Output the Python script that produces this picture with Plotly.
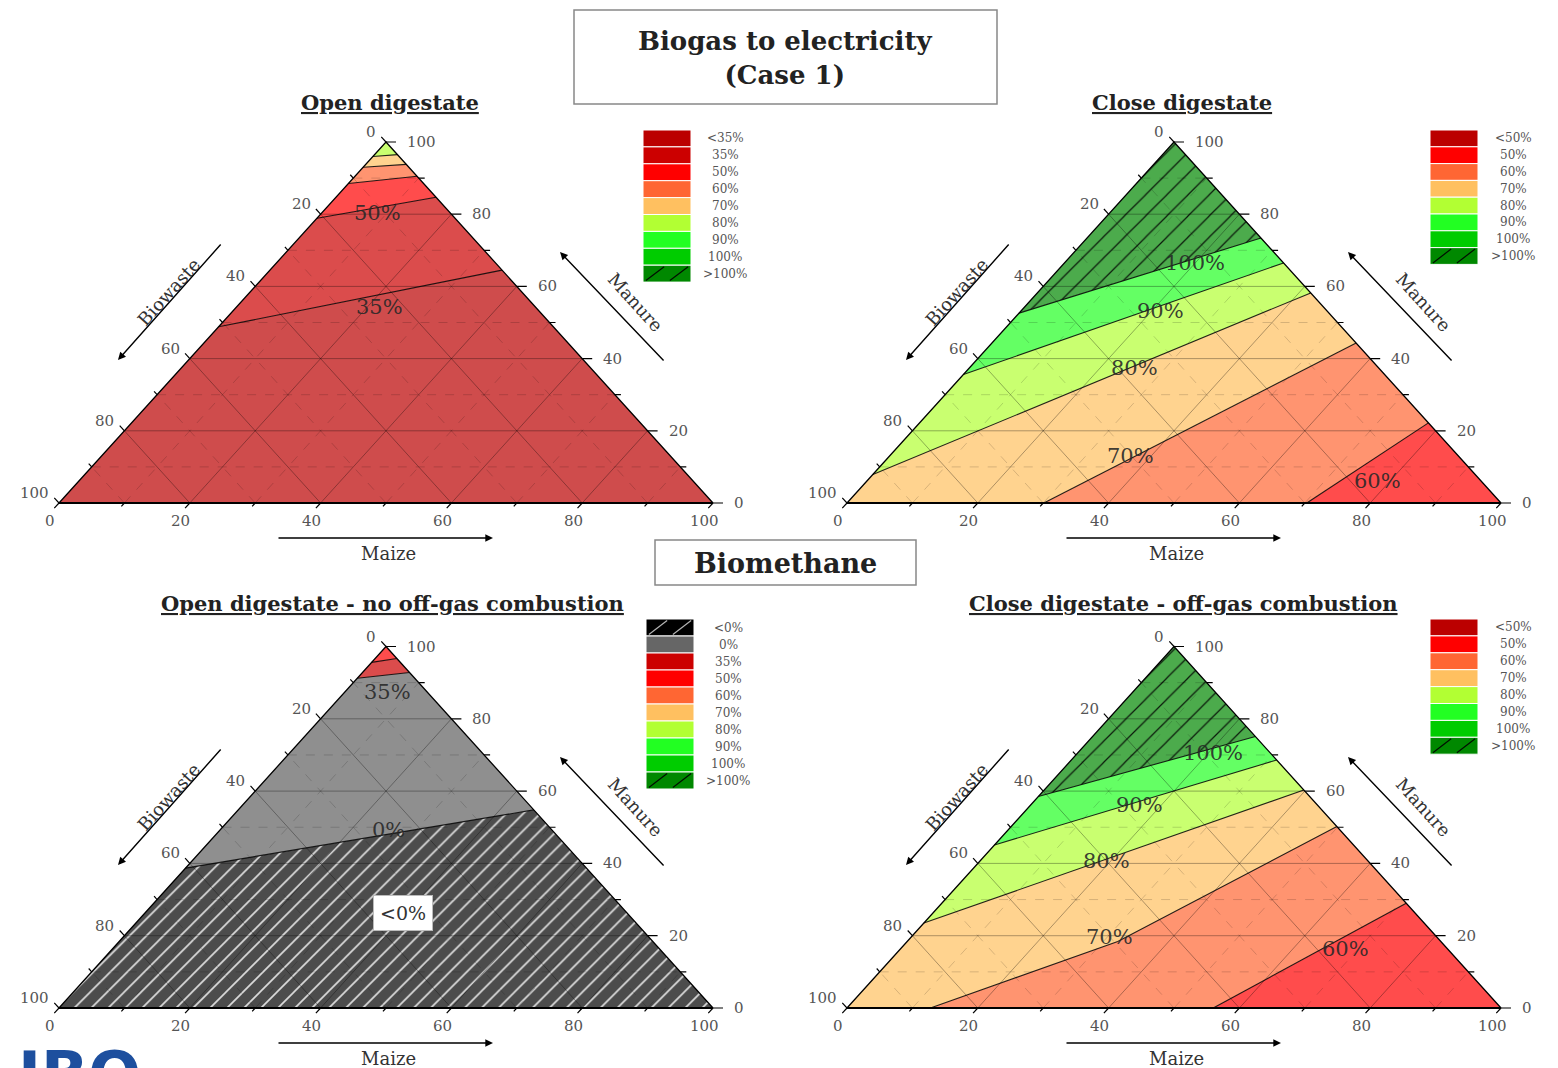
import plotly.graph_objects as go

W, H = 1558, 1068
SERIF = "DejaVu Serif"

# ---------------- data ----------------
TICK_VALUES = [0, 20, 40, 60, 80, 100]
TICK_TEXT = ["0", "20", "40", "60", "80", "100"]
MINOR_VALUES = [10, 30, 50, 70, 90]

# Contour lines: Manure % and Maize % at each point (Biowaste = 100 - Manure - Maize)
# Biogas to electricity - open digestate
OPEN_LEVELS = ["35%", "50%", "60%", "70%", "80%"]
OPEN_MANURE = [[48.8, 64.5], [78.9, 84.7], [88.5, 90.5], [93.0, 93.8], [96.0, 96.5]]
OPEN_MAIZE = [[0.0, 35.5], [0.0, 15.3], [0.0, 9.5], [0.0, 6.2], [0.0, 3.5]]
OPEN_COLORS = ["#BB0000", "#CC0000", "#FF0000", "#FF6633", "#FFC060", "#B2FF33"]
OPEN_HATCH = [None, None, None, None, None, None]
OPEN_LABELS = ["50%", "35%"]
OPEN_LABEL_MANURE = [80.3, 54.3]
OPEN_LABEL_MAIZE = [8.6, 21.9]

# Biogas to electricity - close digestate
CLOSE_LEVELS = ["60%", "70%", "80%", "90%", "100%"]
CLOSE_MANURE = [[0.0, 22.2], [0.0, 44.3], [7.9, 58.2], [35.6, 66.5], [52.6, 73.4]]
CLOSE_MAIZE = [[70.3, 77.8], [30.1, 55.7], [0.0, 41.8], [0.0, 33.5], [0.0, 26.6]]
CLOSE_COLORS = ["#FF0000", "#FF6633", "#FFC060", "#B2FF33", "#22FF22", "#008800"]
CLOSE_HATCH = [None, None, None, None, None, "dark"]
CLOSE_LABELS = ["100%", "90%", "80%", "70%", "60%"]
CLOSE_LABEL_MANURE = [66.5, 53.1, 37.4, 13.0, 6.1]
CLOSE_LABEL_MAIZE = [20.0, 21.4, 25.3, 36.8, 78.0]

# Biomethane - open digestate, no off-gas combustion
BMO_LEVELS = ["0%", "35%", "50%"]
BMO_MANURE = [[38.7, 54.8], [91.2, 92.8], [95.6, 96.7]]
BMO_MAIZE = [[0.0, 45.2], [0.0, 7.2], [0.0, 3.3]]
BMO_COLORS = ["#000000", "#606060", "#CC0000", "#FF0000"]
BMO_HATCH = ["light", None, None, None]
BMO_LABELS = ["35%", "0%"]
BMO_LABEL_MANURE = [87.4, 49.3]
BMO_LABEL_MAIZE = [6.6, 25.7]
BMO_BOX_LABEL = "<0%"
BMO_BOX_MANURE = 26.3
BMO_BOX_MAIZE = 39.4

# Biomethane - close digestate, off-gas combustion
BMC_LEVELS = ["60%", "70%", "80%", "90%", "100%"]
BMC_MANURE = [[0.0, 29.0], [0.0, 18.4, 50.2], [23.5, 60.3], [45.1, 68.6], [58.5, 75.1]]
BMC_MAIZE = [[56.0, 71.0], [12.75, 32.2, 49.8], [0.0, 39.7], [0.0, 31.4], [0.0, 24.9]]
BMC_COLORS = ["#FF0000", "#FF6633", "#FFC060", "#B2FF33", "#22FF22", "#008800"]
BMC_HATCH = [None, None, None, None, None, "dark"]
BMC_LABELS = ["100%", "90%", "80%", "70%", "60%"]
BMC_LABEL_MANURE = [70.5, 56.1, 40.6, 19.6, 16.3]
BMC_LABEL_MAIZE = [20.7, 16.6, 19.4, 30.3, 68.0]

# Legends
LEG_OPEN = ["<35%", "35%", "50%", "60%", "70%", "80%", "90%", "100%", ">100%"]
LEG_OPEN_COLORS = ["#BB0000", "#CC0000", "#FF0000", "#FF6633", "#FFC060", "#B2FF33", "#22FF22", "#00CC00", "#008800"]
LEG_OPEN_HATCH = [None] * 8 + ["dark"]
LEG_CLOSE = ["<50%", "50%", "60%", "70%", "80%", "90%", "100%", ">100%"]
LEG_CLOSE_COLORS = ["#BB0000", "#FF0000", "#FF6633", "#FFC060", "#B2FF33", "#22FF22", "#00CC00", "#008800"]
LEG_CLOSE_HATCH = [None] * 7 + ["dark"]
LEG_BMO = ["<0%", "0%", "35%", "50%", "60%", "70%", "80%", "90%", "100%", ">100%"]
LEG_BMO_COLORS = ["#000000", "#666666", "#CC0000", "#FF0000", "#FF6633", "#FFC060", "#B2FF33", "#22FF22", "#00CC00", "#008800"]
LEG_BMO_HATCH = ["light"] + [None] * 8 + ["dark"]

AXIS_NAMES = ["Biowaste", "Manure", "Maize"]
MAIN_TITLE = "Biogas to electricity<br>(Case 1)"
SECOND_TITLE = "Biomethane"

# ---------------- helpers ----------------
FILL_ALPHA = 0.7
PADX, PADY = 3.0, 3.0
HATCH = {
    "dark": dict(fg="rgba(0,0,0,0.85)", size=15, solidity=0.08),
    "light": dict(fg="rgba(235,235,235,0.9)", size=12, solidity=0.14),
}


def rgba(h, a):
    h = h.lstrip("#")
    return "rgba(%d,%d,%d,%s)" % (int(h[0:2], 16), int(h[2:4], 16), int(h[4:6], 16), a)


def to_xy(m, z):
    return z + m / 2.0, m


def perim_t(m, z):
    b = 100.0 - m - z
    if m < 1e-6:
        return z / 100.0
    if b < 1e-6:
        return 1.0 + m / 100.0
    return 2.0 + b / 100.0


CORNERS = {1: (0.0, 100.0), 2: (100.0, 0.0), 3: (0.0, 0.0)}


def walk(t1, t2):
    if t2 < t1:
        t2 += 3
    pts = []
    for k in range(1, 7):
        if t1 < k < t2:
            pts.append(CORNERS[(k - 1) % 3 + 1])
    return pts


def region_polys(man, mai):
    lines = [list(zip(m, z)) for m, z in zip(man, mai)]
    polys = []
    L = lines[0]
    polys.append(L[::-1] + walk(perim_t(*L[0]), perim_t(*L[-1])))
    for i in range(len(lines) - 1):
        L1, L2 = lines[i], lines[i + 1]
        polys.append(L1 + walk(perim_t(*L1[-1]), perim_t(*L2[-1])) + L2[::-1]
                     + walk(perim_t(*L2[0]), perim_t(*L1[0])))
    L = lines[-1]
    polys.append(L + walk(perim_t(*L[-1]), perim_t(*L[0])))
    return polys


def px(X, Y):
    return X / W, 1 - Y / H


def ptext(X, Y, text, font, **kw):
    x, y = px(X, Y)
    d = dict(x=x, y=y, xref="paper", yref="paper", text=text, showarrow=False, font=font,
             xanchor="center", yanchor="middle")
    d.update(kw)
    return d


PANELS = [
    dict(box=(59, 713, 503, 142), man=OPEN_MANURE, mai=OPEN_MAIZE, colors=OPEN_COLORS, hatch=OPEN_HATCH,
         labels=OPEN_LABELS, lab_m=OPEN_LABEL_MANURE, lab_z=OPEN_LABEL_MAIZE,
         title="Open digestate", title_xy=(390, 103),
         leg=LEG_OPEN, leg_colors=LEG_OPEN_COLORS, leg_hatch=LEG_OPEN_HATCH, leg_pos=(643, 691, 130, 16.9), leg_tx=725),
    dict(box=(847, 1501, 503, 142), man=CLOSE_MANURE, mai=CLOSE_MAIZE, colors=CLOSE_COLORS, hatch=CLOSE_HATCH,
         labels=CLOSE_LABELS, lab_m=CLOSE_LABEL_MANURE, lab_z=CLOSE_LABEL_MAIZE,
         title="Close digestate", title_xy=(1182, 103),
         leg=LEG_CLOSE, leg_colors=LEG_CLOSE_COLORS, leg_hatch=LEG_CLOSE_HATCH, leg_pos=(1430, 1478, 130, 16.8), leg_tx=1513),
    dict(box=(59, 713, 1008, 646.5), man=BMO_MANURE, mai=BMO_MAIZE, colors=BMO_COLORS, hatch=BMO_HATCH,
         labels=BMO_LABELS, lab_m=BMO_LABEL_MANURE, lab_z=BMO_LABEL_MAIZE,
         title="Open digestate - no off-gas combustion", title_xy=(392, 603),
         leg=LEG_BMO, leg_colors=LEG_BMO_COLORS, leg_hatch=LEG_BMO_HATCH, leg_pos=(646, 694, 619, 17.0), leg_tx=728),
    dict(box=(847, 1501, 1008, 646.5), man=BMC_MANURE, mai=BMC_MAIZE, colors=BMC_COLORS, hatch=BMC_HATCH,
         labels=BMC_LABELS, lab_m=BMC_LABEL_MANURE, lab_z=BMC_LABEL_MAIZE,
         title="Close digestate - off-gas combustion", title_xy=(1183, 603),
         leg=LEG_CLOSE, leg_colors=LEG_CLOSE_COLORS, leg_hatch=LEG_CLOSE_HATCH, leg_pos=(1430, 1478, 619, 16.9), leg_tx=1513),
]

fig = go.Figure()
annotations = []
shapes = []
layout_axes = {}

for i, P in enumerate(PANELS):
    n = i + 1
    xa, ya = ("x" if n == 1 else "x%d" % n), ("y" if n == 1 else "y%d" % n)
    x0, x1, yb, yt = P["box"]
    sx = (x1 - x0) / 100.0
    sy = (yb - yt) / 100.0
    xdom = [(x0 - PADX * sx) / W, (x1 + PADX * sx) / W]
    ydom = [1 - (yb + PADY * sy) / H, 1 - (yt - PADY * sy) / H]
    kx = "xaxis" if n == 1 else "xaxis%d" % n
    ky = "yaxis" if n == 1 else "yaxis%d" % n
    layout_axes[kx] = dict(domain=xdom, range=[-PADX, 100 + PADX], visible=False, fixedrange=True, anchor=ya)
    layout_axes[ky] = dict(domain=ydom, range=[-PADY, 100 + PADY], visible=False, fixedrange=True, anchor=xa)
    common = dict(xaxis=xa, yaxis=ya, showlegend=False, hoverinfo="skip")

    # filled regions
    for poly, col, hat in zip(region_polys(P["man"], P["mai"]), P["colors"], P["hatch"]):
        pts = poly + [poly[0]]
        xs = [to_xy(m, z)[0] for m, z in pts]
        ys = [to_xy(m, z)[1] for m, z in pts]
        tr = dict(x=xs, y=ys, mode="lines", fill="toself", fillcolor=rgba(col, FILL_ALPHA),
                  line=dict(width=0), **common)
        if hat:
            hs = HATCH[hat]
            tr["fillpattern"] = dict(shape="/", fgcolor=hs["fg"], bgcolor=rgba(col, FILL_ALPHA),
                                     size=hs["size"], solidity=hs["solidity"], fgopacity=1)
        fig.add_trace(go.Scatter(**tr))

    # grid lines
    for vals, dash, colr in ((MINOR_VALUES, "dash", "rgba(0,0,0,0.16)"), (TICK_VALUES[1:-1], "solid", "rgba(0,0,0,0.32)")):
        gx, gy = [], []
        for v in vals:
            for (m1, z1), (m2, z2) in (((v, 0), (v, 100 - v)), ((0, v), (100 - v, v)), ((0, 100 - v), (100 - v, 0))):
                a, b = to_xy(m1, z1), to_xy(m2, z2)
                gx += [a[0], b[0], None]
                gy += [a[1], b[1], None]
        fig.add_trace(go.Scatter(x=gx, y=gy, mode="lines", line=dict(color=colr, width=1, dash=dash), **common))

    # contour lines
    cx, cy = [], []
    for m_list, z_list in zip(P["man"], P["mai"]):
        for m, z in zip(m_list, z_list):
            x, y = to_xy(m, z)
            cx.append(x)
            cy.append(y)
        cx.append(None)
        cy.append(None)
    fig.add_trace(go.Scatter(x=cx, y=cy, mode="lines", line=dict(color="rgba(0,0,0,0.85)", width=1.1), **common))

    # triangle edges
    ex, ey = zip(*[to_xy(100, 0), to_xy(0, 100), to_xy(100, 0), to_xy(0, 0)])
    fig.add_trace(go.Scatter(x=list(ex), y=list(ey), mode="lines", line=dict(color="black", width=1.3), **common))
    bx, by = zip(*[to_xy(0, 0), to_xy(0, 100)])
    fig.add_trace(go.Scatter(x=list(bx), y=list(by), mode="lines", line=dict(color="black", width=2.2), **common))

    # ticks
    tx, ty = [], []
    ux, uy = 0.671, 0.741
    for v in TICK_VALUES + MINOR_VALUES:
        major = v in TICK_VALUES
        Lr, Ls = (10, 7) if major else (6, 4.5)
        x, y = to_xy(v, 100 - v)          # right edge (Manure)
        tx += [x, x + Lr / sx, None]
        ty += [y, y, None]
        x, y = to_xy(0, v)                # bottom edge (Maize)
        tx += [x, x - ux * Ls / sx, None]
        ty += [y, y - uy * Ls / sy, None]
        x, y = to_xy(100 - v, 0)          # left edge (Biowaste)
        tx += [x, x - ux * Ls / sx, None]
        ty += [y, y + uy * Ls / sy, None]
    fig.add_trace(go.Scatter(x=tx, y=ty, mode="lines", line=dict(color="black", width=1.2), **common))

    # tick labels
    tf = dict(family=SERIF, size=15, color="#555555")
    for v, t in zip(TICK_VALUES, TICK_TEXT):
        x, y = to_xy(0, v)
        annotations.append(dict(x=x, y=y, xref=xa, yref=ya, text=t, showarrow=False, font=tf,
                                xanchor="center", yanchor="middle", xshift=-9, yshift=-18))
        x, y = to_xy(v, 100 - v)
        annotations.append(dict(x=x, y=y, xref=xa, yref=ya, text=t, showarrow=False, font=tf,
                                xanchor="left", yanchor="middle", xshift=19, yshift=0))
        x, y = to_xy(100 - v, 0)
        annotations.append(dict(x=x, y=y, xref=xa, yref=ya, text=t, showarrow=False, font=tf,
                                xanchor="right", yanchor="middle", xshift=-8, yshift=10))

    # contour labels
    for t, m, z in zip(P["labels"], P["lab_m"], P["lab_z"]):
        x, y = to_xy(m, z)
        annotations.append(dict(x=x, y=y, xref=xa, yref=ya, text=t, showarrow=False,
                                xanchor="center", yanchor="middle",
                                font=dict(family=SERIF, size=21, color="rgba(40,40,40,0.9)")))

    # panel title
    annotations.append(ptext(*P["title_xy"], "<b><u>%s</u></b>" % P["title"],
                             dict(family=SERIF, size=21, color="#222222")))

    # axis names and arrows (positions relative to the panel's lower-left vertex)
    dx, dy = x0 - 59, yb - 503
    nf = dict(family=SERIF, size=18, color="#333333")
    for name, (tx_, ty_), ang in ((AXIS_NAMES[0], (168, 292), -48), (AXIS_NAMES[1], (636, 302), 48),
                                  (AXIS_NAMES[2], (388, 553), 0)):
        annotations.append(ptext(tx_ + dx, ty_ + dy, name, nf, textangle=ang))
    for (hx, hy), (tlx, tly) in (((118, 360), (222, 243)), ((560, 252), (665, 362)), ((493, 538), (277, 538))):
        X, Y = px(hx + dx, hy + dy)
        annotations.append(dict(x=X, y=Y, xref="paper", yref="paper", text="", showarrow=True,
                                ax=tlx - hx, ay=tly - hy, arrowhead=2, arrowsize=1.1, arrowwidth=1.4,
                                arrowcolor="black", standoff=0))

    # legend
    lx0, lx1, ly0, pitch = P["leg_pos"]
    for k, (lab, col, hat) in enumerate(zip(P["leg"], P["leg_colors"], P["leg_hatch"])):
        top = ly0 + k * pitch
        bot = top + pitch
        X0, Y0 = px(lx0, top)
        X1, Y1 = px(lx1, bot)
        shapes.append(dict(type="rect", xref="paper", yref="paper", x0=X0, x1=X1, y0=Y1, y1=Y0,
                           fillcolor=col, line=dict(color="white", width=1)))
        if hat:
            lc = "rgba(0,0,0,0.9)" if hat == "dark" else "rgba(200,200,200,0.9)"
            w = lx1 - lx0
            for f in (0.06, 0.56):
                A = px(lx0 + f * w, bot - 1.5)
                B = px(lx0 + (f + 0.38) * w, top + 1.5)
                shapes.append(dict(type="line", xref="paper", yref="paper", x0=A[0], y0=A[1], x1=B[0], y1=B[1],
                                   line=dict(color=lc, width=1.2)))
        annotations.append(ptext(P["leg_tx"], (top + bot) / 2, lab,
                                 dict(family=SERIF, size=12, color="#555555")))

# boxed label in the biomethane open-digestate panel
bx_, by_ = to_xy(BMO_BOX_MANURE, BMO_BOX_MAIZE)
annotations.append(dict(x=bx_, y=by_, xref="x3", yref="y3", text=BMO_BOX_LABEL, showarrow=False,
                        xanchor="center", yanchor="middle",
                        font=dict(family=SERIF, size=19, color="#333333"), bgcolor="white",
                        bordercolor="#bbbbbb", borderwidth=1, borderpad=6))

# main titles in boxes
X0, Y0 = px(574, 10)
X1, Y1 = px(997, 104)
shapes.append(dict(type="rect", xref="paper", yref="paper", x0=X0, x1=X1, y0=Y1, y1=Y0,
                   line=dict(color="#888888", width=1.5), fillcolor="white"))
annotations.append(ptext(785.5, 58, "<b>%s</b>" % MAIN_TITLE, dict(family=SERIF, size=26, color="#222222")))
X0, Y0 = px(655, 540)
X1, Y1 = px(916, 585)
shapes.append(dict(type="rect", xref="paper", yref="paper", x0=X0, x1=X1, y0=Y1, y1=Y0,
                   line=dict(color="#888888", width=1.5), fillcolor="white"))
annotations.append(ptext(785.5, 563, "<b>%s</b>" % SECOND_TITLE, dict(family=SERIF, size=27, color="#222222")))

# cut-off logo at the bottom-left corner
annotations.append(ptext(16, 1036, "<b>IBO</b>", dict(family="DejaVu Sans", size=62, color="#1d4f9e"),
                         xanchor="left", yanchor="top"))

fig.update_layout(width=W, height=H, autosize=False, margin=dict(l=0, r=0, t=0, b=0),
                  paper_bgcolor="white", plot_bgcolor="rgba(0,0,0,0)",
                  annotations=annotations, shapes=shapes, **layout_axes)

fig.write_html("out.html", config={"displayModeBar": False},
               post_script="document.body.style.margin='0px';document.body.style.overflow='hidden';")
